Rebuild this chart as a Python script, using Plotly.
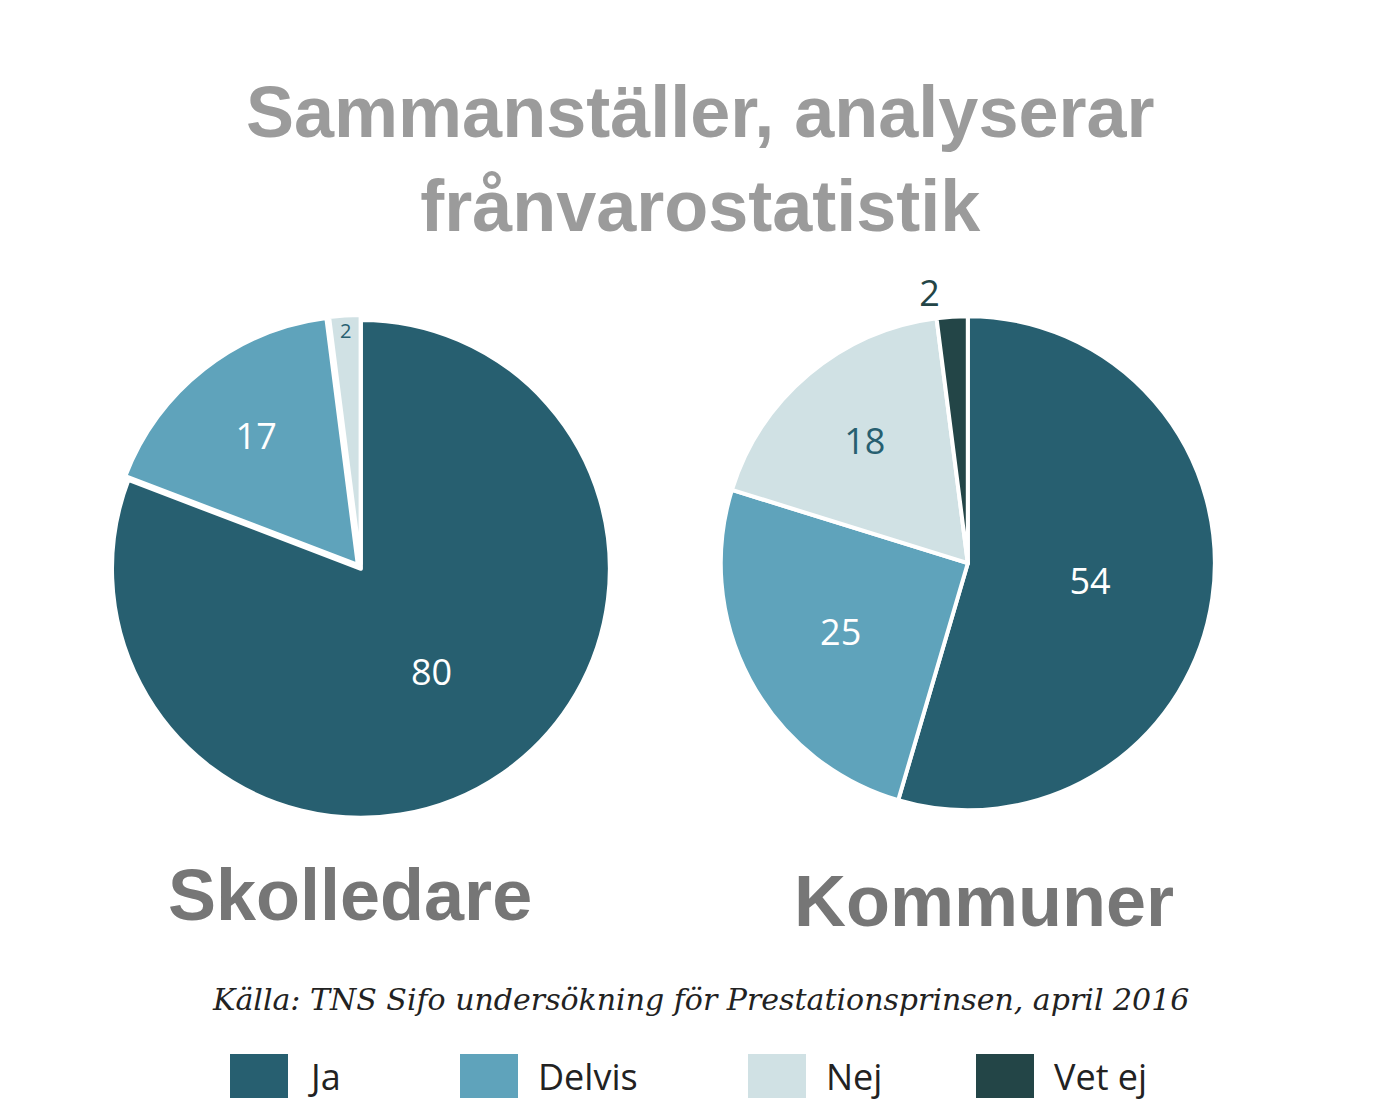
import plotly.graph_objects as go

categories = ["Ja", "Delvis", "Nej", "Vet ej"]
colors = ["#275f70", "#5fa3bb", "#d0e1e4", "#234547"]
skolledare = [80, 17, 2]
kommuner = [54, 25, 18, 2]

fig = go.Figure()
fig.add_trace(go.Pie(
    labels=categories[:3], values=skolledare, sort=False, direction="clockwise", rotation=0,
    marker=dict(colors=colors[:3], line=dict(color="white", width=4)),
    pull=[0, 0.02, 0.02], textinfo="value", textposition=["inside", "inside", "inside"],
    insidetextorientation="horizontal",
    textfont=dict(family="Open Sans", size=36, color=["white", "white", "#275f70"]),
    domain=dict(x=[0.07, 0.44], y=[0.27, 0.725]), showlegend=False, hoverinfo="label+value"))
fig.add_trace(go.Pie(
    labels=categories, values=kommuner, sort=False, direction="clockwise", rotation=0,
    marker=dict(colors=colors, line=dict(color="white", width=4)),
    textinfo="value", textposition=["inside", "inside", "inside", "outside"],
    insidetextorientation="horizontal",
    textfont=dict(family="Open Sans", size=36, color=["white", "white", "#275f70", "#234547"]),
    domain=dict(x=[0.515, 0.872], y=[0.28, 0.725]), showlegend=False, hoverinfo="label+value"))

ann = [
    dict(text="<b>Sammanställer, analyserar<br>frånvarostatistik</b>", x=0.5, y=0.865, font=dict(family="Liberation Sans", size=72, color="#9b9b9b")),
    dict(text="<b>Skolledare</b>", x=0.247, y=0.205, font=dict(family="Liberation Sans", size=72, color="#767676")),
    dict(text="<b>Kommuner</b>", x=0.705, y=0.2, font=dict(family="Liberation Sans", size=72, color="#767676")),
    dict(text="<i>Källa: TNS Sifo undersökning för Prestationsprinsen, april 2016</i>", x=0.5, y=0.112,
         font=dict(family="DejaVu Serif", size=30, color="#222")),
]
shapes = []
lx = [222, 452, 740, 968]
for i, c in enumerate(categories):
    x0 = lx[i] / 1384
    shapes.append(dict(type="rect", xref="paper", yref="paper", x0=x0, x1=x0 + 58 / 1384,
                       y0=1 - 1090 / 1116, y1=1 - 1046 / 1116, fillcolor=colors[i], line=dict(width=0)))
    ann.append(dict(text=c, x=x0 + 76 / 1384, y=1 - 1068 / 1116, xanchor="left",
                    font=dict(family="Open Sans", size=36, color="#222")))
for a in ann:
    a.setdefault("xanchor", "center")
    a.update(xref="paper", yref="paper", showarrow=False, yanchor="middle")

fig.update_layout(width=1384, height=1116, margin=dict(l=0, r=0, t=0, b=0),
                  paper_bgcolor="white", plot_bgcolor="white", annotations=ann, shapes=shapes)
fig.write_html("out.html")
